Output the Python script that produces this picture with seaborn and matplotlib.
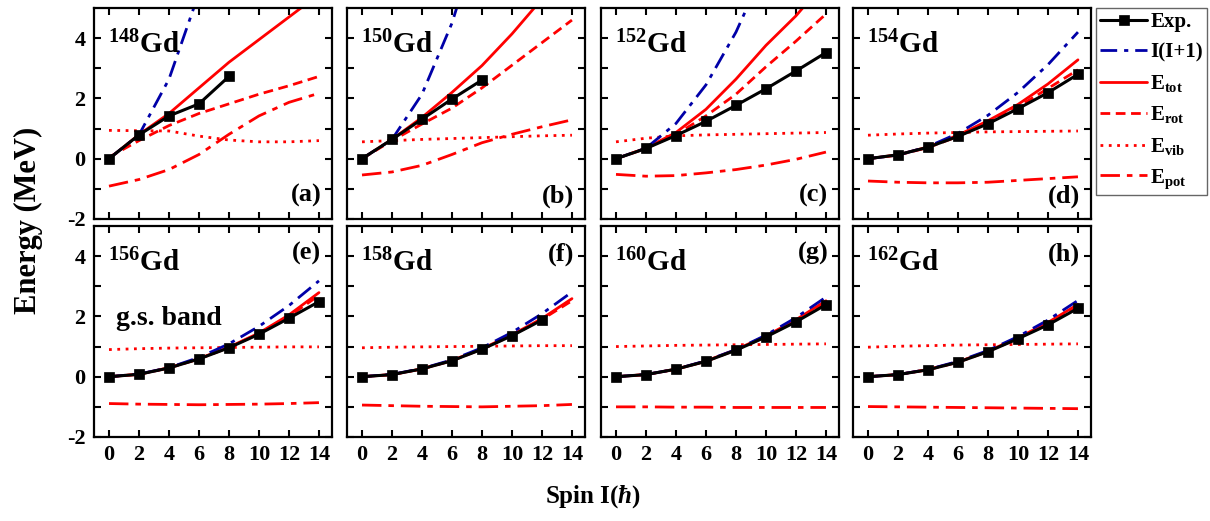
import numpy as np
import pandas as pd
import matplotlib
matplotlib.use("Agg")
import matplotlib.pyplot as plt
import seaborn as sns

# ---------------- data ----------------
spin = [0, 2, 4, 6, 8, 10, 12, 14]
nuclei = ["148", "150", "152", "154", "156", "158", "160", "162"]
panel_tags = ["(a)", "(b)", "(c)", "(d)", "(e)", "(f)", "(g)", "(h)"]

exp_148 = [0, 0.79, 1.42, 1.82, 2.73]
exp_150 = [0, 0.64, 1.31, 1.98, 2.61]
exp_152 = [0, 0.34, 0.77, 1.24, 1.77, 2.32, 2.91, 3.52]
exp_154 = [0, 0.13, 0.38, 0.74, 1.16, 1.66, 2.19, 2.80]
exp_156 = [0, 0.08, 0.29, 0.59, 0.96, 1.41, 1.94, 2.49]
exp_158 = [0, 0.07, 0.26, 0.53, 0.91, 1.36, 1.88]
exp_160 = [0, 0.07, 0.25, 0.51, 0.88, 1.32, 1.82, 2.39]
exp_162 = [0, 0.07, 0.23, 0.48, 0.83, 1.26, 1.72, 2.27]

rig_148 = [0, 0.79, 2.64, 5.50]
rig_150 = [0, 0.64, 2.14, 4.50, 7.70]
rig_152 = [0, 0.35, 1.17, 2.45, 4.20, 6.40]
rig_154 = [0, 0.12, 0.40, 0.84, 1.44, 2.20, 3.12, 4.20]
rig_156 = [0, 0.09, 0.30, 0.64, 1.09, 1.67, 2.36, 3.18]
rig_158 = [0, 0.08, 0.27, 0.56, 0.96, 1.47, 2.09, 2.81]
rig_160 = [0, 0.075, 0.25, 0.53, 0.90, 1.38, 1.96, 2.64]
rig_162 = [0, 0.072, 0.24, 0.51, 0.87, 1.33, 1.88, 2.53]

tot_148 = [0, 0.80, 1.50, 2.35, 3.20, 3.95, 4.70, 5.45]
tot_150 = [0, 0.64, 1.37, 2.20, 3.09, 4.14, 5.30, 6.50]
tot_152 = [0, 0.35, 0.87, 1.64, 2.64, 3.76, 4.74, 5.90]
tot_154 = [0, 0.13, 0.39, 0.78, 1.26, 1.80, 2.48, 3.28]
tot_156 = [0, 0.08, 0.30, 0.60, 0.98, 1.45, 2.05, 2.79]
tot_158 = [0, 0.07, 0.26, 0.54, 0.93, 1.39, 1.93, 2.59]
tot_160 = [0, 0.07, 0.25, 0.52, 0.90, 1.35, 1.89, 2.52]
tot_162 = [0, 0.07, 0.24, 0.49, 0.85, 1.29, 1.80, 2.40]

rot_148 = [0.05, 0.60, 1.10, 1.50, 1.82, 2.14, 2.42, 2.73]
rot_150 = [0, 0.60, 1.15, 1.68, 2.35, 3.10, 3.85, 4.60]
rot_152 = [0, 0.34, 0.80, 1.42, 2.14, 3.05, 3.90, 4.80]
rot_154 = [0, 0.12, 0.37, 0.74, 1.20, 1.72, 2.33, 2.95]
rot_156 = [0, 0.08, 0.29, 0.59, 0.97, 1.43, 2.00, 2.70]
rot_158 = [0, 0.07, 0.26, 0.53, 0.92, 1.37, 1.90, 2.52]
rot_160 = [0, 0.07, 0.25, 0.51, 0.89, 1.33, 1.86, 2.48]
rot_162 = [0, 0.07, 0.23, 0.48, 0.84, 1.27, 1.78, 2.37]

vib_148 = [0.94, 0.93, 0.92, 0.75, 0.62, 0.56, 0.56, 0.60]
vib_150 = [0.56, 0.60, 0.64, 0.67, 0.70, 0.73, 0.76, 0.78]
vib_152 = [0.56, 0.68, 0.76, 0.79, 0.81, 0.83, 0.85, 0.87]
vib_154 = [0.78, 0.82, 0.85, 0.87, 0.89, 0.90, 0.91, 0.92]
vib_156 = [0.90, 0.93, 0.95, 0.96, 0.97, 0.98, 0.99, 0.99]
vib_158 = [0.96, 0.98, 0.99, 1.00, 1.01, 1.02, 1.03, 1.03]
vib_160 = [1.00, 1.02, 1.04, 1.05, 1.06, 1.07, 1.08, 1.09]
vib_162 = [0.98, 1.01, 1.03, 1.05, 1.06, 1.07, 1.08, 1.09]

pot_148 = [-0.91, -0.69, -0.36, 0.14, 0.81, 1.42, 1.87, 2.17]
pot_150 = [-0.54, -0.44, -0.22, 0.14, 0.53, 0.81, 1.06, 1.29]
pot_152 = [-0.52, -0.58, -0.56, -0.47, -0.36, -0.21, -0.02, 0.22]
pot_154 = [-0.74, -0.78, -0.80, -0.80, -0.78, -0.72, -0.66, -0.60]
pot_156 = [-0.89, -0.91, -0.92, -0.93, -0.92, -0.91, -0.89, -0.86]
pot_158 = [-0.94, -0.96, -0.98, -0.99, -1.00, -0.98, -0.96, -0.92]
pot_160 = [-1.00, -1.00, -1.01, -1.01, -1.02, -1.02, -1.02, -1.02]
pot_162 = [-0.99, -1.00, -1.01, -1.02, -1.03, -1.04, -1.05, -1.06]

exp_all = [exp_148, exp_150, exp_152, exp_154, exp_156, exp_158, exp_160, exp_162]
rig_all = [rig_148, rig_150, rig_152, rig_154, rig_156, rig_158, rig_160, rig_162]
tot_all = [tot_148, tot_150, tot_152, tot_154, tot_156, tot_158, tot_160, tot_162]
rot_all = [rot_148, rot_150, rot_152, rot_154, rot_156, rot_158, rot_160, rot_162]
vib_all = [vib_148, vib_150, vib_152, vib_154, vib_156, vib_158, vib_160, vib_162]
pot_all = [pot_148, pot_150, pot_152, pot_154, pot_156, pot_158, pot_160, pot_162]

legend_labels = ["Exp.", "I(I+1)", r"E$_\mathrm{tot}$", r"E$_\mathrm{rot}$",
                 r"E$_\mathrm{vib}$", r"E$_\mathrm{pot}$"]

# ---------------- style ----------------
sns.set_style("ticks")
plt.rcParams.update({
    "font.family": ["Liberation Serif", "DejaVu Serif"],
    "font.weight": "bold",
    "axes.labelweight": "bold",
    "mathtext.fontset": "custom",
    "mathtext.rm": "Liberation Serif:bold",
    "mathtext.bf": "Liberation Serif:bold",
    "mathtext.it": "Liberation Serif:italic:bold",
    "axes.linewidth": 1.6,
    "axes.edgecolor": "black",
    "text.color": "black",
    "axes.labelcolor": "black",
    "xtick.color": "black",
    "ytick.color": "black",
    "xtick.labelcolor": "black",
    "ytick.labelcolor": "black",
})

RED = "#ff0000"
BLUE = "#0000a8"

W, H = 1210, 521
fig = plt.figure(figsize=(W / 100, H / 100), dpi=100)

col_left = [94, 347, 601, 853]
row_top = [8, 226]
pw, ph = 238, 211


def plot_series(ax, vals, **kw):
    df = pd.DataFrame({"spin": spin[:len(vals)], "E": vals})
    sns.lineplot(data=df, x="spin", y="E", ax=ax, legend=False, **kw)
    return ax.lines[-1]


handles = None
for k in range(8):
    r, c = divmod(k, 4)
    x0 = col_left[c]
    y0 = row_top[r]
    ax = fig.add_axes([x0 / W, 1 - (y0 + ph) / H, pw / W, ph / H])

    h_pot = plot_series(ax, pot_all[k], color=RED, lw=2.0, linestyle=(0, (7, 2.5, 2, 2.5)))
    h_vib = plot_series(ax, vib_all[k], color=RED, lw=2.0, linestyle=(0, (1, 2)))
    h_rot = plot_series(ax, rot_all[k], color=RED, lw=2.0, linestyle=(0, (3.5, 2)))
    h_tot = plot_series(ax, tot_all[k], color=RED, lw=2.0, linestyle="-")
    h_rig = plot_series(ax, rig_all[k], color=BLUE, lw=2.0, linestyle=(0, (6, 2.5, 1.5, 2.5)))
    h_exp = plot_series(ax, exp_all[k], color="black", lw=2.2, linestyle="-",
                        marker="s", markersize=7.5, mec="black", mfc="black", mew=0.5)
    if k == 0:
        handles = [h_exp, h_rig, h_tot, h_rot, h_vib, h_pot]

    ax.set_xlim(-1, 14.87)
    ax.set_ylim(-2, 5)
    ax.set_xticks(spin)
    ax.set_yticks([-2, -1, 0, 1, 2, 3, 4])
    ax.tick_params(direction="in", length=5, width=1.5, top=True, right=True,
                   labelsize=16, pad=6, colors="black")
    if r == 1:
        ax.set_xticklabels([str(s) for s in spin], fontweight="bold")
    else:
        ax.set_xticklabels([])
    if c == 0:
        ax.set_yticklabels(["-2", "", "0", "", "2", "", "4"], fontweight="bold")
    else:
        ax.set_yticklabels([])
    ax.set_xlabel("")
    ax.set_ylabel("")

    ax.text(0.058, 0.787, r"$^{%s}$Gd" % nuclei[k], transform=ax.transAxes,
            ha="left", va="baseline", fontsize=21, fontweight="bold", color="black")
    if r == 0:
        ax.text(0.955, 0.11, panel_tags[k], transform=ax.transAxes,
                ha="right", va="center", fontsize=19, fontweight="bold", color="black")
    else:
        ax.text(0.955, 0.868, panel_tags[k], transform=ax.transAxes,
                ha="right", va="center", fontsize=19, fontweight="bold", color="black")
    if k == 4:
        ax.text(0.092, 0.53, "g.s. band", transform=ax.transAxes,
                ha="left", va="baseline", fontsize=20, fontweight="bold", color="black")

fig.text(28 / W, 1 - 220 / H, "Energy (MeV)", rotation=90, ha="center", va="center",
         fontsize=22, fontweight="bold", color="black")
fig.text(593 / W, 1 - 497 / H, r"Spin I($ħ$)", ha="center", va="center",
         fontsize=18, fontweight="bold", color="black")

leg = fig.legend(handles, legend_labels, loc="upper left",
                 bbox_to_anchor=(1096 / W, 1 - 8 / H), frameon=True, fancybox=False,
                 edgecolor="#666666", framealpha=1, borderaxespad=0,
                 handlelength=2.25, handletextpad=0.15, labelspacing=0.5,
                 borderpad=0.2, prop={"family": "Liberation Serif", "weight": "bold", "size": 15})
leg.get_frame().set_linewidth(1.0)
for t in leg.get_texts():
    t.set_color("black")

fig.savefig("out.png", dpi=100)
